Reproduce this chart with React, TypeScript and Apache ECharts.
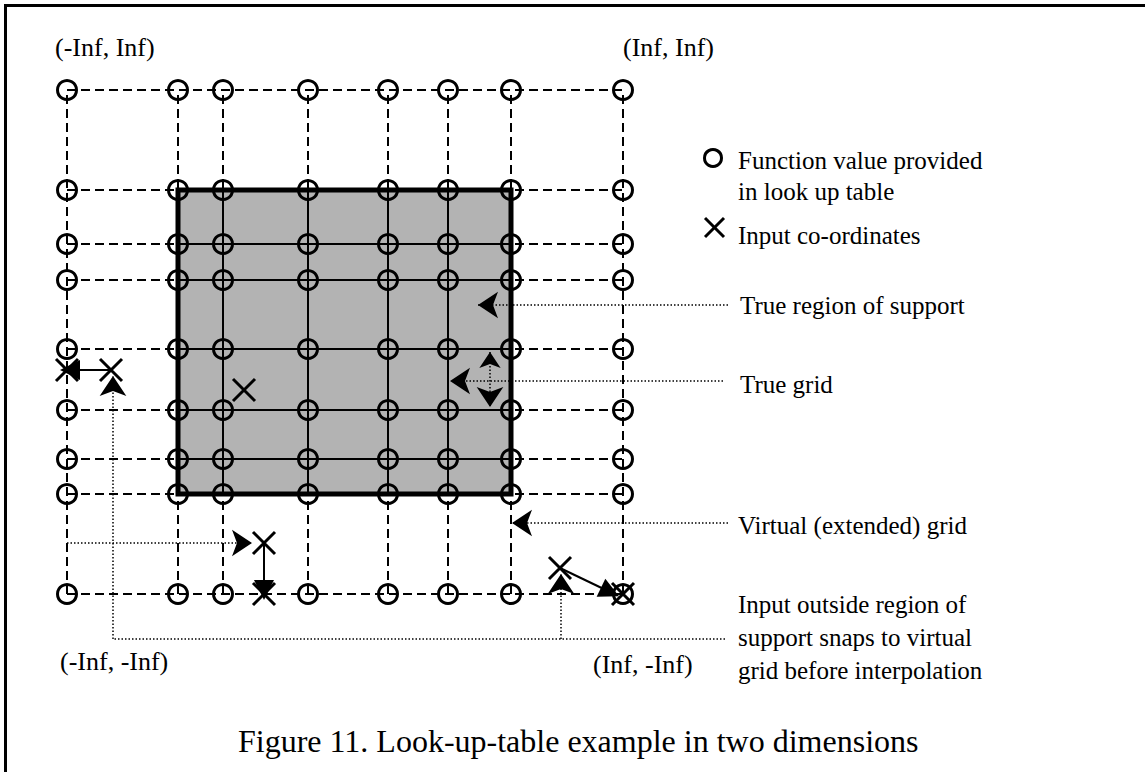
import React, { useEffect, useRef } from "react";
import * as echarts from "echarts";

// Diagram coordinate system (x to the right, y upwards), units of the virtual grid
const colX = [0, 111, 156, 241, 321, 381, 444, 556];
const rowY = [504, 404, 350, 314, 245, 184, 135, 100, 0];
// index range of the true region of support
const supportCols = [1, 6];
const supportRows = [1, 7];

// input co-ordinates (X marks)
const inputPoints = [
  [0, 224],
  [44, 224],
  [177, 204],
  [197, 51],
  [197, 0],
  [493, 26],
  [556, 0],
];

// snapping arrows (solid)
const snapArrows = [
  [[44, 224], [3, 224]],
  [[197, 51], [197, 4]],
  [[493, 26], [543, 2]],
];

// dotted pointer segments: [from, to, arrowAtStart, arrowAtEnd]
const pointerSegments: [number[], number[], boolean, boolean][] = [
  [[661, 289], [411, 289], false, true],
  [[656, 213], [383, 213], false, true],
  [[423, 242], [423, 187], true, true],
  [[661, 71], [445, 71], false, true],
  [[658, -45], [46, -45], false, false],
  [[46, -45], [46, 218], false, true],
  [[494, -45], [494, 20], false, true],
  [[0, 51], [185, 51], false, true],
];

const cornerLabels = ["(-Inf, Inf)", "(Inf, Inf)", "(-Inf, -Inf)", "(Inf, -Inf)"];
const legendLabels = ["Function value provided", "in look up table", "Input co-ordinates"];
const annotationLabels = ["True region of support", "True grid", "Virtual (extended) grid"];
const snapNote = ["Input outside region of", "support snaps to virtual", "grid before interpolation"];
const caption = "Figure 11. Look-up-table example in two dimensions";

const FONT = "'Liberation Serif', 'Times New Roman', serif";

function txt(text: string, x: number, y: number, size: number) {
  return {
    type: "text",
    x,
    y,
    silent: true,
    style: {
      text,
      fill: "#000",
      fontSize: size,
      fontFamily: FONT,
      textAlign: "left",
      textVerticalAlign: "middle",
    },
  };
}

export default function App() {
  const ref = useRef<HTMLDivElement>(null);
  useEffect(() => {
    if (!ref.current) return;
    const chart = echarts.init(ref.current, null, { renderer: "svg" });

    const x0 = colX[0];
    const x1 = colX[colX.length - 1];
    const yTop = rowY[0];
    const yBot = rowY[rowY.length - 1];
    const sx1 = colX[supportCols[0]];
    const sx2 = colX[supportCols[1]];
    const sy1 = rowY[supportRows[0]];
    const sy2 = rowY[supportRows[1]];

    const dashed: any[] = [];
    colX.forEach((x) => dashed.push({ coords: [[x, yBot], [x, yTop]] }));
    rowY.forEach((y) => dashed.push({ coords: [[x0, y], [x1, y]] }));

    const solid: any[] = [];
    for (let i = supportCols[0] + 1; i < supportCols[1]; i++)
      solid.push({ coords: [[colX[i], sy2], [colX[i], sy1]] });
    for (let j = supportRows[0] + 1; j < supportRows[1]; j++)
      solid.push({ coords: [[sx1, rowY[j]], [sx2, rowY[j]]] });

    const circles: number[][] = [];
    colX.forEach((x) => rowY.forEach((y) => circles.push([x, y])));

    const pointerSeries = pointerSegments.map((s) => ({
      type: "lines",
      coordinateSystem: "cartesian2d",
      clip: false,
      silent: true,
      z: 6,
      symbol: [s[2] ? "arrow" : "none", s[3] ? "arrow" : "none"],
      symbolSize: [16, 20],
      lineStyle: { color: "#000", width: 1.5, type: [1.5, 2], opacity: 1 },
      data: [{ coords: [s[0], s[1]] }],
    }));

    const option: any = {
      animation: false,
      backgroundColor: "#fff",
      grid: { left: 67, top: 90, width: 556, height: 504 },
      xAxis: { type: "value", min: 0, max: 556, show: false },
      yAxis: { type: "value", min: 0, max: 504, show: false },
      series: [
        {
          type: "lines",
          coordinateSystem: "cartesian2d",
          clip: false,
          silent: true,
          z: 1,
          lineStyle: { color: "#000", width: 2, type: [9, 5], opacity: 1 },
          data: dashed,
        },
        {
          type: "custom",
          silent: true,
          z: 2,
          data: [[0]],
          renderItem: (_p: any, api: any) => {
            const a = api.coord([sx1, sy1]);
            const b = api.coord([sx2, sy2]);
            return {
              type: "rect",
              shape: { x: a[0], y: a[1], width: b[0] - a[0], height: b[1] - a[1] },
              style: { fill: "#b3b3b3", stroke: "none" },
            };
          },
        },
        {
          type: "lines",
          coordinateSystem: "cartesian2d",
          silent: true,
          z: 3,
          lineStyle: { color: "#000", width: 2, type: "solid", opacity: 1 },
          data: solid,
        },
        {
          type: "custom",
          silent: true,
          z: 4,
          data: [[0]],
          renderItem: (_p: any, api: any) => {
            const a = api.coord([sx1, sy1]);
            const b = api.coord([sx2, sy2]);
            return {
              type: "rect",
              shape: { x: a[0], y: a[1], width: b[0] - a[0], height: b[1] - a[1] },
              style: { fill: "none", stroke: "#000", lineWidth: 5 },
            };
          },
        },
        {
          type: "scatter",
          silent: true,
          clip: false,
          z: 5,
          symbol: "circle",
          symbolSize: 19,
          itemStyle: { color: "rgba(0,0,0,0)", borderColor: "#000", borderWidth: 3, opacity: 1 },
          data: circles,
        },
        ...pointerSeries,
        {
          type: "lines",
          coordinateSystem: "cartesian2d",
          clip: false,
          silent: true,
          z: 7,
          symbol: ["none", "triangle"],
          symbolSize: [15, 20],
          lineStyle: { color: "#000", width: 2, type: "solid", opacity: 1 },
          data: snapArrows.map((c) => ({ coords: c })),
        },
        {
          type: "scatter",
          silent: true,
          clip: false,
          z: 8,
          symbol: "path://M0,0L20,20M20,0L0,20",
          symbolSize: 22,
          itemStyle: { color: "rgba(0,0,0,0)", borderColor: "#000", borderWidth: 3, opacity: 1 },
          data: inputPoints,
        },
      ],
      graphic: [
        // frame (only top and left edges visible)
        {
          type: "polyline",
          silent: true,
          shape: { points: [[5.5, 772], [5.5, 5.5], [1145, 5.5]] },
          style: { stroke: "#000", lineWidth: 3, fill: "none" },
        },
        txt(cornerLabels[0], 55, 47, 26),
        txt(cornerLabels[1], 623, 47, 26),
        txt(cornerLabels[2], 60, 661, 26),
        txt(cornerLabels[3], 593, 664, 26),
        // legend
        {
          type: "circle",
          silent: true,
          shape: { cx: 713, cy: 158, r: 8.5 },
          style: { fill: "none", stroke: "#000", lineWidth: 3 },
        },
        {
          type: "line",
          silent: true,
          shape: { x1: 705, y1: 218, x2: 724, y2: 237 },
          style: { stroke: "#000", lineWidth: 3 },
        },
        {
          type: "line",
          silent: true,
          shape: { x1: 724, y1: 218, x2: 705, y2: 237 },
          style: { stroke: "#000", lineWidth: 3 },
        },
        txt(legendLabels[0], 738, 160, 25),
        txt(legendLabels[1], 738, 191, 25),
        txt(legendLabels[2], 738, 235, 25),
        txt(annotationLabels[0], 740, 305, 25),
        txt(annotationLabels[1], 740, 384, 25),
        txt(annotationLabels[2], 738, 525, 25),
        txt(snapNote[0], 738, 604, 25),
        txt(snapNote[1], 738, 637, 25),
        txt(snapNote[2], 738, 670, 25),
        txt(caption, 238, 741, 32),
      ],
    };
    chart.setOption(option);
    return () => chart.dispose();
  }, []);
  return (
    <div
      ref={ref}
      style={{ position: "fixed", left: 0, top: 0, width: 1145, height: 772, background: "#fff" }}
    />
  );
}
